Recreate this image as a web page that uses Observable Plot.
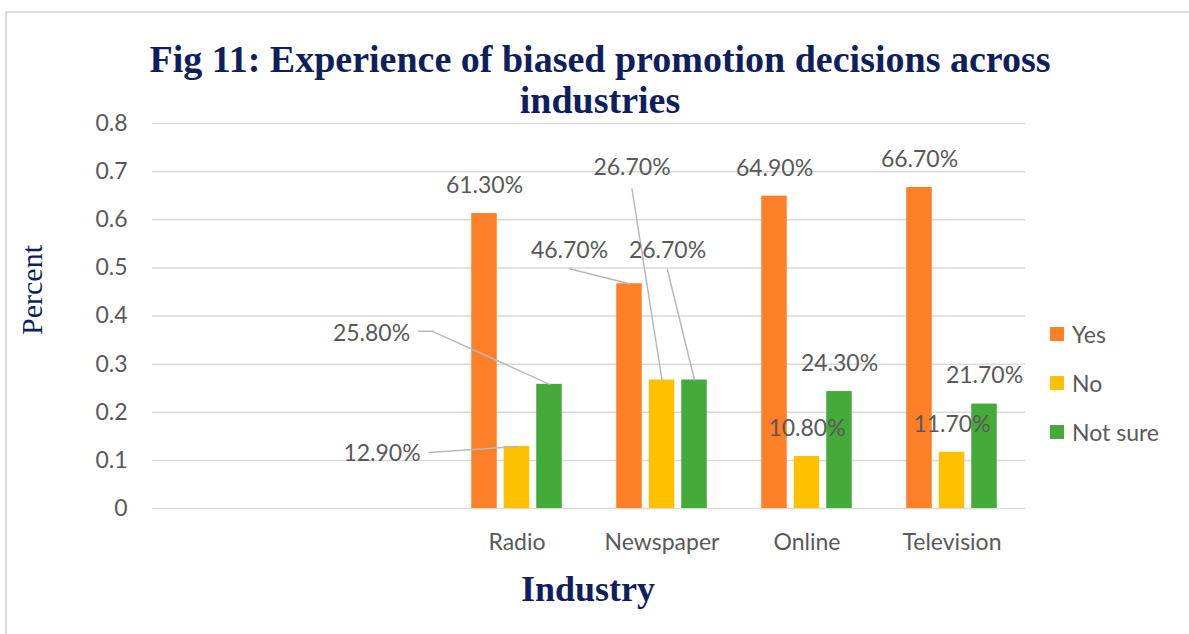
<!DOCTYPE html>
<html>
<head>
<meta charset="utf-8">
<script src="https://cdn.jsdelivr.net/npm/d3@7"></script>
<script src="https://cdn.jsdelivr.net/npm/@observablehq/plot@0.6"></script>
<style>
  html, body { margin: 0; padding: 0; background: #fff; }
  #wrap { position: relative; width: 1189px; height: 634px; overflow: hidden; background: #fff; }
  #frame { position: absolute; left: 5px; top: 11px; width: 1300px; height: 800px;
           border-top: 2px solid #dcdcdc; border-left: 2px solid #dcdcdc; }
  #title { position: absolute; left: 0; top: 39px; width: 1200px; text-align: center;
           font-family: "Liberation Serif", serif; font-weight: bold; font-size: 38px;
           line-height: 41px; color: #0f1f5c; z-index: 2; }
  #ylabel { position: absolute; left: -68px; top: 275px; width: 200px; height: 30px;
            line-height: 30px; text-align: center; transform: rotate(-90deg);
            font-family: "Liberation Serif", serif; font-size: 30px; color: #0f1f5c; }
  #xlabel { position: absolute; left: 388px; top: 569px; width: 400px; text-align: center;
            font-family: "Liberation Serif", serif; font-weight: bold; font-size: 36px;
            line-height: 40px; color: #0f1f5c; }
  #chart { position: absolute; left: 0; top: 100px; }
  #legend { position: absolute; left: 1050px; top: 319px; font-family: Lato, sans-serif;
            font-size: 23px; color: #595959; }
  .lg-row { height: 49px; display: flex; align-items: flex-start; }
  .lg-sw { width: 14px; height: 14px; margin-top: 8px; margin-right: 8px; }
  .lg-tx { line-height: 30px; }
</style>
</head>
<body>
<div id="wrap">
  <div id="frame"></div>
  <div id="chart"></div>
  <div id="title">Fig 11: Experience of biased promotion decisions across<br>industries</div>
  <div id="ylabel">Percent</div>
  <div id="xlabel">Industry</div>
  <div id="legend"></div>
</div>
<script>
// ---- data ----
const blankSlots = ["", " "];
const industries = ["Radio", "Newspaper", "Online", "Television"];
const responses = ["Yes", "No", "Not sure"];
const yesValues = [0.613, 0.467, 0.649, 0.667];
const noValues = [0.129, 0.267, 0.108, 0.117];
const notSureValues = [0.258, 0.267, 0.243, 0.217];
const yTicks = [0, 0.1, 0.2, 0.3, 0.4, 0.5, 0.6, 0.7, 0.8];
const yTickLabels = ["0", "0.1", "0.2", "0.3", "0.4", "0.5", "0.6", "0.7", "0.8"];
const colors = ["#fd7f27", "#ffc000", "#44ab3b"];

// label placement for labels that were moved off their bars (pixel offsets from bar top)
const movedLabels = [
  {industry: "Radio", response: "No", ox: -135, oy: 7, path: [[-88, 6], [0, 0]]},
  {industry: "Radio", response: "Not sure", ox: -178, oy: -51, path: [[-131, -53], [-117, -53], [0, 0]]},
  {industry: "Newspaper", response: "Yes", ox: -60, oy: -33, path: [[-60, -15], [0, 0]]},
  {industry: "Newspaper", response: "No", ox: -30, oy: -212, path: [[-30, -191], [0, 0]]},
  {industry: "Newspaper", response: "Not sure", ox: -27, oy: -129, path: [[-27, -110], [0, 0]]}
];

// ---- table ----
const seriesValues = [yesValues, noValues, notSureValues];
const rows = [];
industries.forEach((ind, i) => {
  responses.forEach((r, j) => rows.push({industry: ind, response: r, value: seriesValues[j][i]}));
});
const fmt = v => (v * 100).toFixed(2) + "%";

// ---- layout ----
const W = 1189, H = 534;
const mLeft = 152, mRight = 164, mTop = 23, mBottom = 126;
const categories = [...blankSlots, ...industries];
const bandPx = (W - mLeft - mRight) / categories.length;
const barW = 26, barStep = 32.5;
const inset = (bandPx - barW) / 2;
const seriesDx = [-barStep, 0, barStep];
const lineShape = {draw(context, l) { context.moveTo(0, 0); context.lineTo(0, -l); }};

const isMoved = d => movedLabels.some(m => m.industry === d.industry && m.response === d.response);

const marks = [
  Plot.ruleY(yTicks, {stroke: "#d9d9d9", strokeWidth: 1.5})
];
responses.forEach((r, j) => {
  const sub = rows.filter(d => d.response === r);
  marks.push(Plot.barY(sub, {x: "industry", y: "value", fill: "response", dx: seriesDx[j],
    insetLeft: inset, insetRight: inset}));
});
responses.forEach((r, j) => {
  const sub = rows.filter(d => d.response === r && !isMoved(d));
  marks.push(Plot.text(sub, {x: "industry", y: "value", text: d => fmt(d.value), dx: seriesDx[j], dy: -28,
    fill: "#595959", fontSize: 23, fontFamily: "Lato"}));
});
movedLabels.forEach(m => {
  const j = responses.indexOf(m.response);
  const d = rows.find(r => r.industry === m.industry && r.response === m.response);
  for (let k = 0; k < m.path.length - 1; k++) {
    const [x0, y0] = m.path[k], [x1, y1] = m.path[k + 1];
    const ddx = x1 - x0, ddy = y1 - y0;
    marks.push(Plot.vector([d], {x: "industry", y: "value", dx: seriesDx[j] + x0, dy: y0,
      length: Math.hypot(ddx, ddy), rotate: Math.atan2(ddx, -ddy) * 180 / Math.PI,
      anchor: "start", shape: lineShape, stroke: "#b8b8b8", strokeWidth: 1.5}));
  }
  marks.push(Plot.text([d], {x: "industry", y: "value", text: dd => fmt(dd.value),
    dx: seriesDx[j] + m.ox, dy: m.oy, fill: "#595959", fontSize: 23, fontFamily: "Lato"}));
});

const chart = Plot.plot({
  width: W, height: H,
  marginLeft: mLeft, marginRight: mRight, marginTop: mTop, marginBottom: mBottom,
  style: {fontFamily: "Lato", fontSize: "23px", color: "#595959", background: "transparent"},
  x: {domain: categories, padding: 0, tickSize: 0, tickPadding: 25, label: null},
  y: {domain: [0, 0.8], ticks: yTicks, tickSize: 0, tickPadding: 25, label: null,
      tickFormat: v => yTickLabels[yTicks.findIndex(t => Math.abs(t - v) < 1e-9)]},
  color: {domain: responses, range: colors},
  marks
});
document.getElementById("chart").appendChild(chart);

// legend
const lg = document.getElementById("legend");
responses.forEach((r, j) => {
  const row = document.createElement("div");
  row.className = "lg-row";
  row.innerHTML = `<div class="lg-sw" style="background:${colors[j]}"></div><div class="lg-tx">${r}</div>`;
  lg.appendChild(row);
});
</script>
</body>
</html>
